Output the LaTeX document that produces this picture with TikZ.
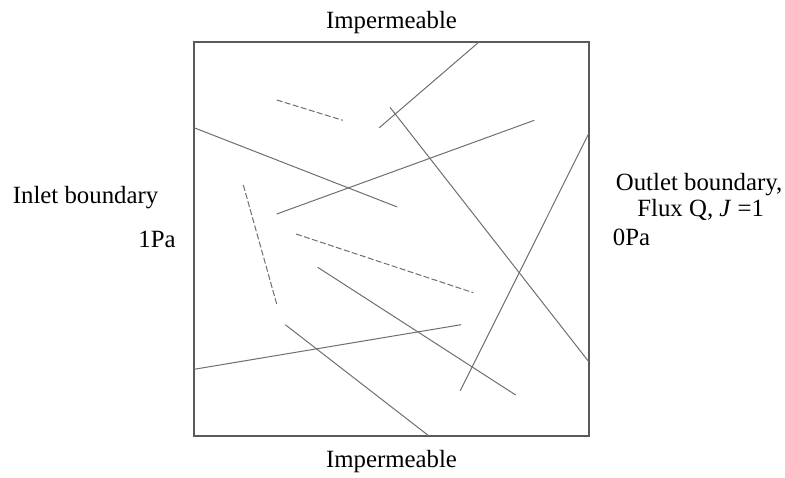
\documentclass[tikz,border=0pt]{standalone}
\usepackage{fontspec}
\setmainfont{Liberation Serif}
\usepackage{tikz}
\usetikzlibrary{positioning}
\definecolor{frame}{RGB}{90, 90, 90}
\definecolor{crack}{RGB}{110, 110, 110}

\begin{document}
\begin{tikzpicture}[
        x=0.5pt, y=-0.5pt,
        font=\fontsize{12.4}{15}\selectfont,
        % Styles
        fieldbox/.style={draw=frame, line width=0.8pt},
        fracture/.style={draw=crack, line width=0.5pt},
        hidden/.style={fracture, dash pattern=on 3pt off 1.2pt},
        bctext/.style={inner sep=0pt}
    ]
    \useasboundingbox (0,0) rectangle (785,477);

    % ==============================
    % 1. DOMAIN
    % ==============================
    \draw[fieldbox] (194,42) rectangle (589,436);
    \coordinate (nw) at (194,42);
    \coordinate (se) at (589,436);

    % ==============================
    % 2. FRACTURES
    % ==============================
    \draw[fracture] (379.3,127.7) -- (479,42);
    \draw[fracture] (390,107.3) -- (589,362);
    \draw[fracture] (194,127.7) -- (397.3,207);
    \draw[fracture] (276.7,214) -- (534.3,120.3);
    \draw[fracture] (589,133) -- (460.3,390.7);
    \draw[fracture] (317.7,267.3) -- (515.7,395);
    \draw[fracture] (194,369.3) -- (461,324.7);
    \draw[fracture] (285.3,324.7) -- (429,436);

    % dashed ones
    \draw[hidden] (276.7,100) -- (342.7,120.3);
    \draw[hidden] (243.3,185) -- (276.7,304);
    \draw[hidden] (296,234) -- (473.3,292.7);

    % ==============================
    % 3. BOUNDARY LABELS
    % ==============================
    \node[bctext, anchor=base] (top_bc) at (391.5,28.3) {Impermeable};
    \node[bctext, anchor=base] (bottom_bc) at (391.5,467.7) {Impermeable};

    \node[bctext, anchor=base west] (inlet) at (12.5,203.5) {Inlet boundary};
    \node[bctext, anchor=base west] (inlet_p) at (138,247.5) {1Pa};

    \node[bctext, anchor=base west] (outlet) at (615.5,190) {Outlet boundary,};
    \node[bctext, anchor=base west] (outlet_q) at (637,216.5) {Flux Q, \textit{J} =1};
    \node[bctext, anchor=base west] (outlet_p) at (612.5,245) {0Pa};

\end{tikzpicture}
\end{document}
